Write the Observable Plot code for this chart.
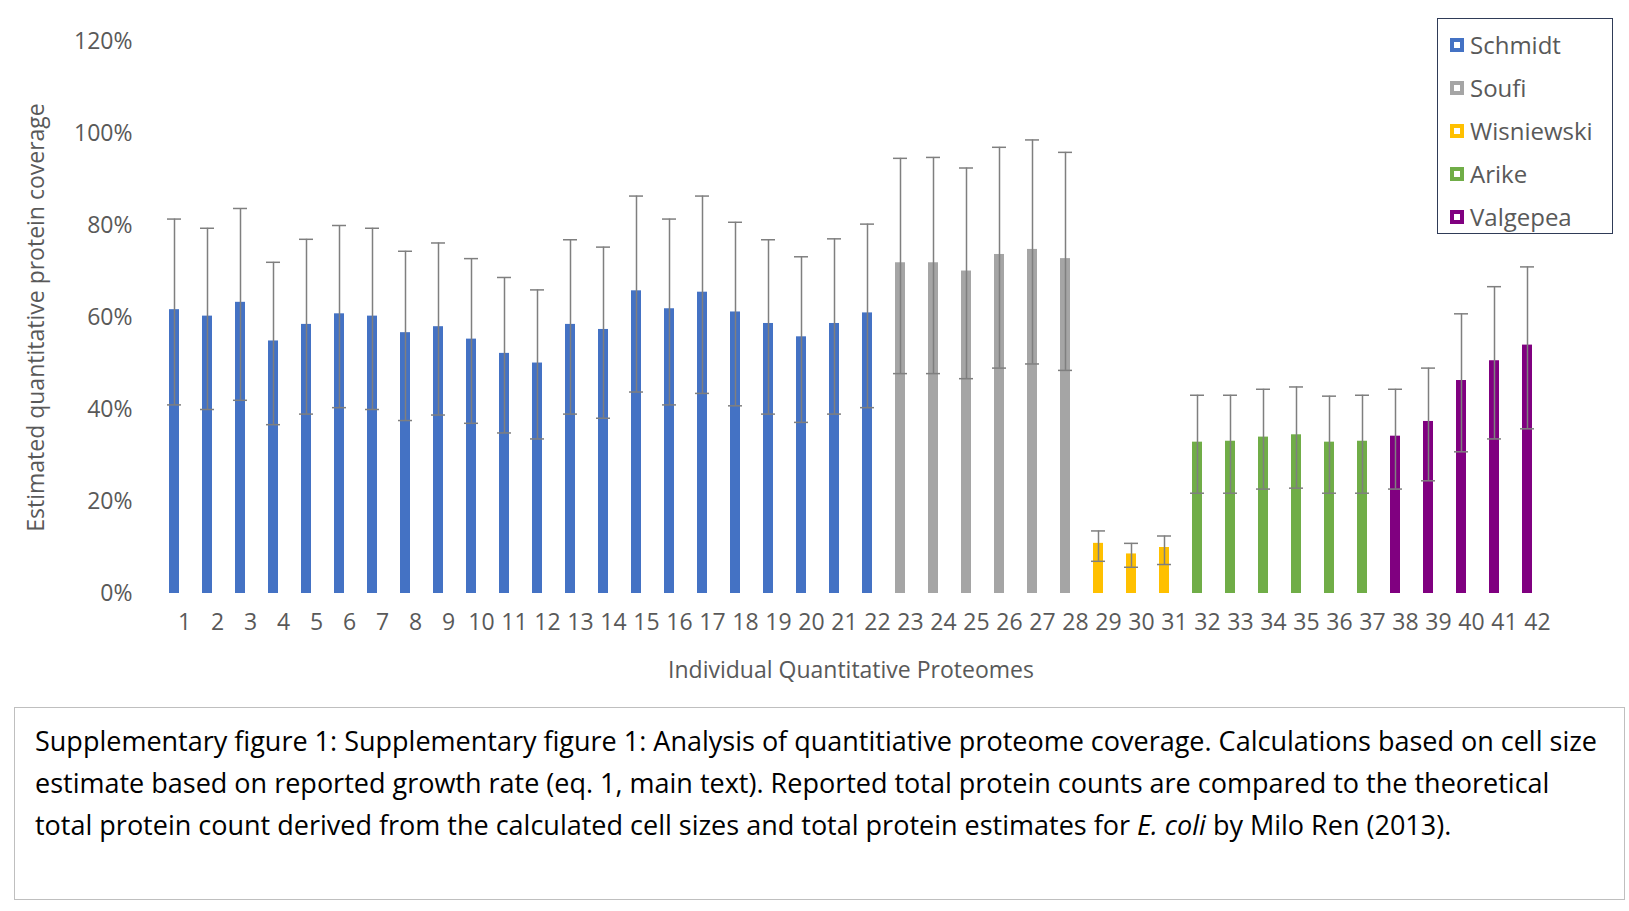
<!DOCTYPE html>
<html><head><meta charset="utf-8">
<script src="https://cdn.jsdelivr.net/npm/d3@7"></script>
<script src="https://cdn.jsdelivr.net/npm/@observablehq/plot@0.6"></script>
<style>
body{margin:0;background:#fff;font-family:"Open Sans",sans-serif;}
#wrap{position:relative;width:1629px;height:911px;}
#legend{position:absolute;left:1437px;top:18px;width:176px;height:216px;border:1.5px solid #2f3b57;box-sizing:border-box;padding:4px 0 0 12px;background:#fff;}
.li{display:flex;align-items:center;height:43px;font-size:24px;color:#595959;}
.sw{width:14px;height:14px;border:4px solid;margin-right:6px;box-sizing:border-box;background:#fff}
#cap{position:absolute;left:14px;top:707px;width:1611px;height:193px;border:1.5px solid #bfbfbf;box-sizing:border-box;padding:12px 20px;font-size:27px;line-height:42px;color:#000;background:#fff;z-index:5;}
</style></head><body>
<div id="wrap"><div id="chart"></div><div id="legend"></div>
<div id="cap">Supplementary figure 1: Supplementary figure 1: Analysis of quantitiative proteome coverage. Calculations based on cell size estimate based on reported growth rate (eq. 1, main text). Reported total protein counts are compared to the theoretical total protein count derived from the calculated cell sizes and total protein estimates for <i>E. coli</i> by Milo Ren (2013).</div></div>
<script>
const groups=["Schmidt","Soufi","Wisniewski","Arike","Valgepea"];
const colors=["#4472C4","#A5A5A5","#FFC000","#70AD47","#800080"];
const groupSizes=[22,6,3,6,5];
const values=[61.7,60.3,63.3,54.9,58.5,60.8,60.3,56.7,58,55.3,52.2,50.1,58.5,57.4,65.8,61.9,65.5,61.2,58.7,55.8,58.7,61,
71.9,71.9,70.1,73.7,74.8,72.8,10.9,8.6,10,32.9,33.1,34,34.5,32.9,33.1,34.2,37.4,46.3,50.6,54];
const errHigh=[81.4,79.4,83.7,72,77,80,79.4,74.4,76.2,72.8,68.7,66,76.9,75.3,86.4,81.4,86.4,80.7,76.9,73.2,77.1,80.3,
94.6,94.8,92.5,97,98.6,95.9,13.6,10.9,12.5,43.1,43.1,44.4,44.9,42.9,43.1,44.4,49,60.8,66.7,71];
const errLow=[41,40,42,36.7,39,40.4,40,37.6,38.8,37,34.9,33.6,39,38.1,43.8,41,43.5,40.8,39,37.2,39,40.4,
47.8,47.8,46.7,49,49.9,48.5,7,5.7,6.3,21.8,21.8,22.7,22.9,21.8,21.8,22.7,24.5,30.8,33.6,35.8];
const groupOf=[];groupSizes.forEach((n,g)=>{for(let i=0;i<n;i++)groupOf.push(groups[g]);});
const data=values.map((v,i)=>({id:String(i+1),v,hi:errHigh[i],lo:errLow[i],g:groupOf[i]}));
const ids=data.map(d=>d.id);
const plot=Plot.plot({
  width:1629,height:700,marginLeft:145,marginRight:73,marginTop:41,marginBottom:107,
  style:{fontFamily:"Open Sans",fontSize:"23px",color:"#595959"},
  x:{domain:ids,padding:0.7,label:"Individual Quantitative Proteomes",labelAnchor:"center",labelOffset:84,tickSize:0,tickPadding:20},
  y:{domain:[0,120],ticks:[0,20,40,60,80,100,120],tickFormat:d=>d+"%",label:"Estimated quantitative protein coverage",labelArrow:"none",labelAnchor:"center",labelOffset:118,tickSize:0,tickPadding:13},
  color:{domain:groups,range:colors},
  marks:[
    Plot.barY(data,{x:"id",y:"v",fill:"g"}),
    Plot.ruleX(data,{x:"id",y1:"lo",y2:"hi",stroke:"#7f7f7f",strokeWidth:1.5}),
    Plot.tickY(data,{x:"id",y:"hi",stroke:"#7f7f7f",strokeWidth:1.5,insetLeft:-2,insetRight:-2}),
    Plot.tickY(data,{x:"id",y:"lo",stroke:"#7f7f7f",strokeWidth:1.5,insetLeft:-2,insetRight:-2})
  ]
});
d3.select(plot).selectAll("g[aria-label='x-axis tick label'] text").attr("dx",10);
document.getElementById("chart").appendChild(plot);
const lg=document.getElementById("legend");
groups.forEach((g,i)=>{lg.insertAdjacentHTML("beforeend",`<div class="li"><span class="sw" style="border-color:${colors[i]}"></span>${g}</div>`);});
</script></body></html>
